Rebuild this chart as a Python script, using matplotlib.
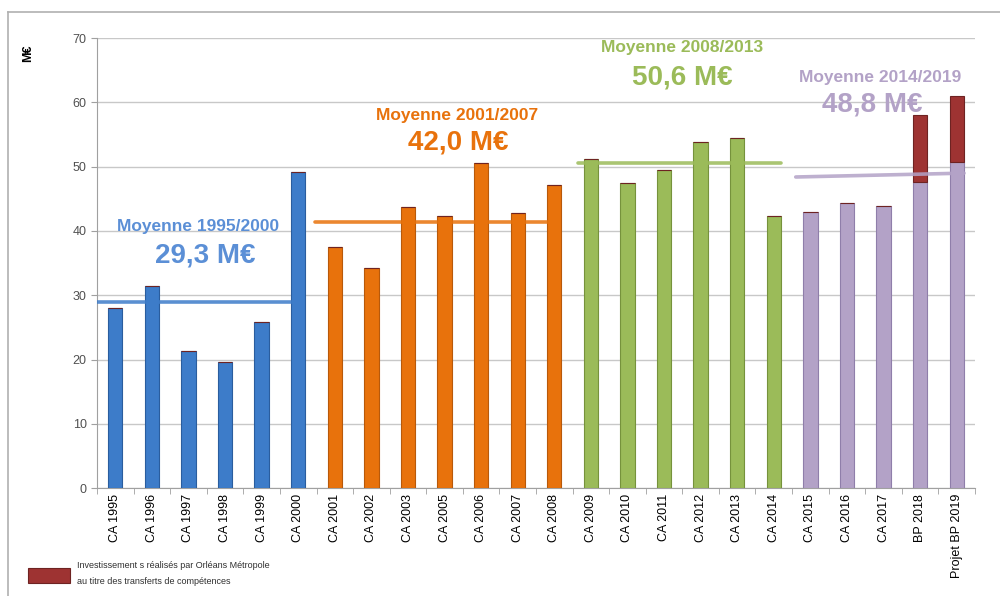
import numpy as np
import matplotlib.pyplot as plt
from matplotlib.patches import Rectangle
from matplotlib.lines import Line2D

plt.rcParams['font.family'] = ['Liberation Sans', 'DejaVu Sans']

labels = ['CA 1995', 'CA 1996', 'CA 1997', 'CA 1998', 'CA 1999', 'CA 2000',
          'CA 2001', 'CA 2002', 'CA 2003', 'CA 2005', 'CA 2006', 'CA 2007',
          'CA 2008', 'CA 2009', 'CA 2010', 'CA 2011', 'CA 2012', 'CA 2013',
          'CA 2014', 'CA 2015', 'CA 2016', 'CA 2017', 'BP 2018',
          'Projet BP 2019']
values = [28.0, 31.4, 21.3, 19.6, 25.8, 49.2,
          37.5, 34.2, 43.7, 42.3, 50.5, 42.8, 47.1,
          51.2, 47.4, 49.5, 53.8, 54.4, 42.3,
          42.9, 44.3, 43.9, 47.6, 50.7]
transferts = [0] * 22 + [10.4, 10.3]
groups = [0] * 6 + [1] * 7 + [2] * 6 + [3] * 5

group_names = ['Moyenne 1995/2000', 'Moyenne 2001/2007',
               'Moyenne 2008/2013', 'Moyenne 2014/2019']
group_means = ['29,3 M\u20ac', '42,0 M\u20ac', '50,6 M\u20ac', '48,8 M\u20ac']
# horizontal mean lines: (x start, x end, y start, y end)
mean_lines = [(-0.5, 5.08, 28.9, 28.9), (5.46, 12.1, 41.4, 41.4),
              (12.65, 18.2, 50.5, 50.5), (18.6, 23.2, 48.4, 49.0)]

colors = ['#3d7cc9', '#e8720c', '#9bbb59', '#b3a2c7']
edges = ['#2a5d9e', '#b8590a', '#76923c', '#8f7eaa']
text_colors = ['#5b8fd6', '#e8720c', '#9bbb59', '#b3a2c7']
red = '#9e3332'

fig = plt.figure(figsize=(10, 5.96), dpi=100)
ax = fig.add_axes([0.097, 0.181, 0.878, 0.755])

x = np.arange(len(labels))
ax.bar(x, values, width=0.39, color=[colors[g] for g in groups],
       edgecolor=[edges[g] for g in groups], linewidth=0.8, zorder=3)
ax.bar(x, transferts, width=0.39, bottom=values, color=red,
       edgecolor='#6e2322', linewidth=0.8, zorder=3)

for (x0, x1, y0, y1), c in zip(mean_lines, colors):
    ax.plot([x0, x1], [y0, y1], color=c, lw=2.6, alpha=0.85, zorder=4,
            solid_capstyle='round')

name_pos = [(2.27, 40.7), (9.34, 58.0), (15.5, 68.6), (20.9, 63.8)]
mean_pos = [(2.46, 36.2), (9.37, 53.7), (15.5, 63.8), (20.7, 59.7)]
for name, mean, (nx, ny), (mx, my), c in zip(group_names, group_means,
                                             name_pos, mean_pos, text_colors):
    ax.text(nx, ny, name, color=c, fontsize=12.5, fontweight='bold',
            ha='center', va='center', zorder=5)
    ax.text(mx, my, mean, color=c, fontsize=20, fontweight='bold',
            ha='center', va='center', zorder=5)

ax.set_xlim(-0.5, 23.5)
ax.set_ylim(0, 70)
ax.set_yticks(range(0, 71, 10))
ax.set_xticks(x)
ax.set_xticklabels(labels, rotation=90, fontsize=9)
ax.set_xticks(np.arange(-0.5, 24, 1), minor=True)
ax.tick_params(axis='x', which='major', length=0, pad=4)
ax.tick_params(axis='x', which='minor', length=4, color='#a0a0a0')
ax.tick_params(axis='y', labelsize=9, labelcolor='#505050', length=4,
               color='#a0a0a0')
ax.grid(axis='y', color='#c8c8c8', lw=1, zorder=0)
ax.set_axisbelow(True)
for s in ['top', 'right']:
    ax.spines[s].set_visible(False)
for s in ['left', 'bottom']:
    ax.spines[s].set_color('#a0a0a0')

fig.text(0.028, 0.911, 'M\u20ac', rotation=90, fontsize=9,
         fontweight='bold', ha='center', va='center')

# outer frame
fig.add_artist(Line2D([0.008, 0.008], [0.0, 0.98], color='#b0b0b0', lw=1.2))
fig.add_artist(Line2D([0.008, 1.0], [0.98, 0.98], color='#b0b0b0', lw=1.2))

# legend
fig.add_artist(Rectangle((0.028, 0.022), 0.042, 0.025, facecolor=red,
                         edgecolor='#6e2322', lw=0.8))
fig.text(0.077, 0.052, 'Investissement s réalisés par Orléans Métropole',
         fontsize=6.5, va='center', ha='left', color='#303030')
fig.text(0.077, 0.024, 'au titre des transferts de compétences',
         fontsize=6.5, va='center', ha='left', color='#303030')

fig.savefig('out.png', dpi=100)
